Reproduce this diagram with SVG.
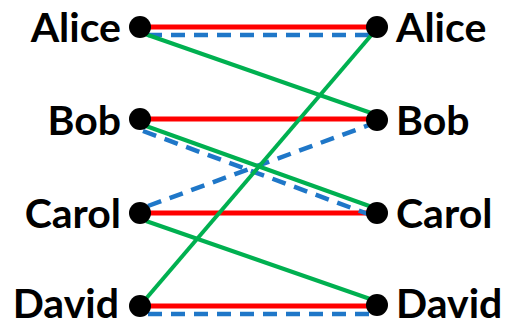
<svg xmlns="http://www.w3.org/2000/svg" width="505" height="327" viewBox="0 0 505 327">
<style>
.lbl{font-family:"Lato","Liberation Sans",sans-serif;font-weight:bold;font-size:41px;fill:#000}
.l{text-anchor:end}
.red{stroke:#FF0000;stroke-width:5;fill:none}
.grn{stroke:#00B050;stroke-width:4;fill:none}
.blu{stroke:#1F77C8;stroke-width:4.5;fill:none;stroke-dasharray:14 9}
.dot{fill:#000}
</style>
<rect width="505" height="327" fill="#fff"/>
<g id="connectors">
<line class="red" x1="140" y1="27" x2="377" y2="27"/>
<line class="red" x1="140" y1="119" x2="377" y2="119"/>
<line class="red" x1="140" y1="213" x2="377" y2="213"/>
<line class="red" x1="140" y1="306" x2="377" y2="306"/>
<line class="blu" x1="148" y1="35" x2="370" y2="35"/>
<line class="blu" x1="143" y1="131" x2="368" y2="214"/>
<line class="blu" x1="148" y1="206" x2="372" y2="124"/>
<line class="blu" x1="148" y1="314" x2="370" y2="314"/>
<line class="grn" x1="145" y1="34" x2="374" y2="114"/>
<line class="grn" x1="146" y1="126" x2="372" y2="207"/>
<line class="grn" x1="146" y1="221" x2="373" y2="300"/>
<line class="grn" x1="144" y1="301" x2="374" y2="32"/>
</g>
<g id="alice-left"><circle class="dot" cx="140" cy="27" r="11"/><text class="lbl l" x="121" y="42">Alice</text></g>
<g id="bob-left"><circle class="dot" cx="140" cy="119" r="11"/><text class="lbl l" x="121" y="135">Bob</text></g>
<g id="carol-left"><circle class="dot" cx="140" cy="213" r="11"/><text class="lbl l" x="121" y="228">Carol</text></g>
<g id="david-left"><circle class="dot" cx="140" cy="306" r="11"/><text class="lbl l" x="119" y="318">David</text></g>
<g id="alice-right"><circle class="dot" cx="377" cy="27" r="11"/><text class="lbl" x="396" y="42">Alice</text></g>
<g id="bob-right"><circle class="dot" cx="377" cy="120" r="11"/><text class="lbl" x="396" y="135">Bob</text></g>
<g id="carol-right"><circle class="dot" cx="377" cy="213" r="11"/><text class="lbl" x="396" y="228">Carol</text></g>
<g id="david-right"><circle class="dot" cx="377" cy="305" r="11"/><text class="lbl" x="396" y="318">David</text></g>
</svg>
